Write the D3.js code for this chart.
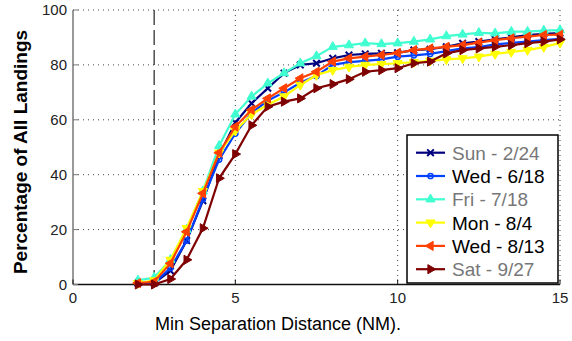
<!DOCTYPE html>
<html>
<head>
<meta charset="utf-8">
<title>Min Separation Distance</title>
<style>
body { margin: 0; background: #fff; }
svg { font-family: "Liberation Sans", Arial, sans-serif; }
.grid line { stroke: #444; stroke-width: 1; stroke-dasharray: 1,4; }
.tick-label { font-size: 15px; fill: #222; }
</style>
<script src="https://cdnjs.cloudflare.com/ajax/libs/d3/7.8.5/d3.min.js"></script>
</head>
<body>
<svg id="chart" width="572" height="341"></svg>
<script>
// separation distance (NM), one sample every 0.5 NM
var distances = [2,2.5,3,3.5,4,4.5,5,5.5,6,6.5,7,7.5,8,8.5,9,9.5,10,10.5,11,11.5,12,12.5,13,13.5,14,14.5,15];

var sun0224 = [0.5,0.5,5,16,30.5,47,59,66,71.5,77,80,80.6,82.4,83.6,84,84.2,84.4,85.4,85.7,86.6,87.9,88.5,89.3,90,90.9,91.3,91.6];
var wed0618 = [0.5,0.5,6,16,31,45.5,55,62.5,67,70,73.5,76,80,81,81.5,82,83,83.5,84,85,86,86.5,87.5,88,88.5,89,89.5];
var fri0718 = [1.5,2.5,9,20,34,50.5,62,68.5,73.3,77,80.6,83.2,86.6,87.2,87.9,87.6,87.9,88.5,89.3,90.5,91.1,91.7,91.5,92.1,92.1,92.5,92.7];
var mon0804 = [0.5,1.5,9,20.5,34,48,56,62,65.5,68.5,72.7,76.3,78.1,79.3,80,80.3,80.6,81,81.5,82,82.4,83,84,84.7,85.4,86.5,88];
var wed0813 = [0.5,1,7.7,19.2,33.2,48,57.5,63.6,67.8,71.5,75.1,77.5,81.2,82.4,83,83.6,84.4,85.4,86,86.6,87.2,88.1,89,89.7,90.3,90.9,91];
var sat0927 = [0,0,2,9,20.5,38.7,47.5,58,64.8,66.6,67.8,71.5,73,74.8,77.5,78.1,78.8,80.6,81.2,84.2,85.4,86,86.6,87.2,87.9,88.5,89.3];

var seriesNames = ["Sun - 2/24","Wed - 6/18","Fri - 7/18","Mon - 8/4","Wed - 8/13","Sat - 9/27"];
var seriesValues = [sun0224, wed0618, fri0718, mon0804, wed0813, sat0927];

var xTicks = [0,5,10,15];
var yTicks = [0,20,40,60,80,100];
var minSeparation = 2.5;

// styling per series (not data)
var colors = ["#00007f","#0040ff","#40ffd0","#ffff00","#ff4000","#7f0000"];
var markers = ["x","o","^","v","<",">"];
var labelColors = ["#777","#000","#777","#000","#000","#777"];

var margin = {top: 10, right: 12, bottom: 56.5, left: 73};
var width = 572 - margin.left - margin.right;
var height = 341 - margin.top - margin.bottom;

var svg = d3.select("#chart");
var g = svg.append("g")
  .attr("transform", "translate(" + margin.left + "," + margin.top + ")");

var x = d3.scaleLinear().domain([0, 15]).range([0, width]);
var y = d3.scaleLinear().domain([0, 100]).range([height, 0]);

// dotted grid
var grid = g.append("g").attr("class", "grid");
grid.selectAll(".gy").data(yTicks.slice(1)).enter().append("line")
  .attr("x1", 0).attr("x2", width)
  .attr("y1", function(d) { return y(d); })
  .attr("y2", function(d) { return y(d); });
grid.selectAll(".gx").data(xTicks.slice(1)).enter().append("line")
  .attr("y1", 0).attr("y2", height)
  .attr("x1", function(d) { return x(d); })
  .attr("x2", function(d) { return x(d); });

// dashed min separation line
g.append("line")
  .attr("x1", x(minSeparation)).attr("x2", x(minSeparation))
  .attr("y1", 0).attr("y2", height)
  .attr("stroke", "#333").attr("stroke-width", 1.3)
  .attr("stroke-dasharray", "15,5");

// axes
g.append("line").attr("x1", 0).attr("x2", 0).attr("y1", 0).attr("y2", height)
  .attr("stroke", "#777").attr("stroke-width", 1.5);
g.append("line").attr("x1", 0).attr("x2", width).attr("y1", height).attr("y2", height)
  .attr("stroke", "#111").attr("stroke-width", 1.5);

g.selectAll(".xt").data(xTicks).enter().append("line")
  .attr("x1", function(d) { return x(d); }).attr("x2", function(d) { return x(d); })
  .attr("y1", height).attr("y2", height - 5)
  .attr("stroke", "#111");
g.selectAll(".yt").data(yTicks).enter().append("line")
  .attr("x1", 0).attr("x2", 5)
  .attr("y1", function(d) { return y(d); }).attr("y2", function(d) { return y(d); })
  .attr("stroke", "#777");

g.selectAll(".xl").data(xTicks).enter().append("text")
  .attr("class", "tick-label")
  .attr("x", function(d) { return x(d); })
  .attr("y", height + 18)
  .attr("text-anchor", "middle")
  .text(function(d) { return d; });
g.selectAll(".yl").data(yTicks).enter().append("text")
  .attr("class", "tick-label")
  .attr("x", -6)
  .attr("y", function(d) { return y(d) + 5; })
  .attr("text-anchor", "end")
  .text(function(d) { return d; });

// axis titles
svg.append("text")
  .attr("x", 278).attr("y", 330)
  .attr("text-anchor", "middle")
  .style("font-size", "18px")
  .text("Min Separation Distance (NM).");
svg.append("text")
  .attr("transform", "translate(27,152) rotate(-90)")
  .attr("text-anchor", "middle")
  .style("font-size", "19px").style("font-weight", "bold")
  .text("Percentage of All Landings");

function drawMarker(sel, type, color) {
  if (type === "x") {
    sel.append("path").attr("d", d3.symbol().type(d3.symbolX).size(30)())
      .attr("fill", "none").attr("stroke", color).attr("stroke-width", 2);
  } else if (type === "o") {
    sel.append("circle").attr("r", 2.6)
      .attr("fill", "none").attr("stroke", color).attr("stroke-width", 1.5);
  } else {
    var rot = {"^": 0, "v": 180, "<": -90, ">": 90}[type];
    sel.append("path").attr("d", d3.symbol().type(d3.symbolTriangle).size(36)())
      .attr("transform", "rotate(" + rot + ")")
      .attr("fill", color).attr("stroke", color).attr("stroke-width", 1);
  }
}

var line = d3.line()
  .x(function(d, i) { return x(distances[i]); })
  .y(function(d) { return y(d); });

seriesValues.forEach(function(vals, s) {
  g.append("path")
    .datum(vals)
    .attr("fill", "none")
    .attr("stroke", colors[s])
    .attr("stroke-width", 2.2)
    .attr("d", line);
  g.selectAll(".m" + s).data(vals).enter().append("g")
    .attr("transform", function(d, i) { return "translate(" + x(distances[i]) + "," + y(d) + ")"; })
    .each(function() { drawMarker(d3.select(this), markers[s], colors[s]); });
});

// legend
var legend = svg.append("g").attr("transform", "translate(407,135)");
legend.append("rect").attr("width", 151).attr("height", 148)
  .attr("fill", "#fff").attr("stroke", "#000").attr("stroke-width", 1.5);
seriesNames.forEach(function(name, s) {
  var row = legend.append("g").attr("transform", "translate(0," + (17.7 + s * 23.3) + ")");
  row.append("line").attr("x1", 9).attr("x2", 38)
    .attr("stroke", colors[s]).attr("stroke-width", 2.2);
  drawMarker(row.append("g").attr("transform", "translate(23.5,0)"), markers[s], colors[s]);
  row.append("text").attr("x", 45).attr("y", 7)
    .style("font-size", "19px").attr("fill", labelColors[s])
    .text(name);
});
</script>
</body>
</html>
